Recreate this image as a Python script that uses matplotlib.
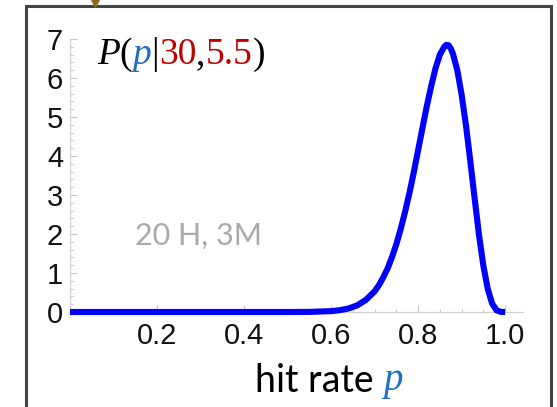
import matplotlib
matplotlib.use("Agg")
import matplotlib.pyplot as plt
from matplotlib.ticker import MultipleLocator
from matplotlib.patches import Rectangle
from matplotlib.lines import Line2D

# values
p_vals = [0.0, 0.1, 0.2, 0.3, 0.4, 0.5, 0.55, 0.6, 0.62, 0.64, 0.66, 0.68, 0.7,
          0.71, 0.72, 0.73, 0.74, 0.75, 0.76, 0.77, 0.78, 0.79, 0.8, 0.81, 0.82,
          0.83, 0.84, 0.85, 0.86, 0.865, 0.87, 0.875, 0.88, 0.89, 0.9, 0.91, 0.92,
          0.93, 0.94, 0.95, 0.96, 0.97, 0.98, 0.99, 1.0]
dens = [0.0, 0.0, 0.0, 0.0, 0.0, 0.0, 0.003, 0.022, 0.046, 0.09, 0.17, 0.31, 0.53,
        0.69, 0.89, 1.12, 1.41, 1.74, 2.13, 2.57, 3.05, 3.58, 4.15, 4.72, 5.28,
        5.79, 6.25, 6.60, 6.80, 6.85, 6.84, 6.76, 6.62, 6.20, 5.57, 4.78, 3.86,
        2.90, 1.97, 1.18, 0.59, 0.22, 0.047, 0.003, 0.0]
x_ticks = [0.2, 0.4, 0.6, 0.8, 1.0]
x_tick_labels = ["0.2", "0.4", "0.6", "0.8", "1.0"]
y_ticks = [0, 1, 2, 3, 4, 5, 6, 7]
annotation = "20 H, 3M"

W, H = 557, 407
fig = plt.figure(figsize=(W / 100, H / 100), dpi=100)
ax = fig.add_axes([70 / W, 1 - 312 / H, (523 - 70) / W, (312 - 39) / H])

ax.plot(p_vals, dens, color="#0000ff", lw=4.4, solid_capstyle="butt",
        solid_joinstyle="round", clip_on=False, zorder=3)

ax.set_xlim(0, 1.041)
ax.set_ylim(0, 7)
for s in ["top", "right"]:
    ax.spines[s].set_visible(False)
for s in ["left", "bottom"]:
    ax.spines[s].set_color("#d0d0d0")
    ax.spines[s].set_linewidth(0.9)

ax.set_xticks(x_ticks)
ax.set_xticklabels(x_tick_labels)
ax.set_yticks(y_ticks)
ax.xaxis.set_minor_locator(MultipleLocator(0.05))
ax.yaxis.set_minor_locator(MultipleLocator(0.2))
ax.tick_params(which="both", direction="in", color="#c8c8c8", width=0.8)
ax.tick_params(which="major", length=5)
ax.tick_params(which="minor", length=2.5)
ax.tick_params(axis="x", which="major", pad=7)
ax.tick_params(axis="y", which="major", pad=5)
for lab in ax.get_xticklabels() + ax.get_yticklabels():
    lab.set_fontfamily("Liberation Sans")
    lab.set_fontsize(21)
    lab.set_color("#111111")

ax.text(0.149, 1.95, annotation, fontsize=22, family="Lato", color="#aaaaaa",
        ha="left", va="center")

# title pieces
pieces = [("P", "black", "italic"), ("(", "black", "normal"), ("p", "#1f6fc4", "italic"),
          ("|", "black", "normal"), ("30", "#c00000", "normal"), (",", "black", "normal"),
          ("5.5", "#c00000", "normal"), (")", "black", "normal")]
prev = None
for txt, col, sty in pieces:
    kw = dict(fontsize=27, family="Liberation Serif", style=sty, color=col, va="baseline")
    if prev is None:
        prev = ax.text(0.062, 6.36, txt, ha="left", **kw)
    else:
        prev = ax.annotate(txt, xy=(1, 0), xycoords=prev, ha="left",
                           xytext=(0, 0), textcoords="offset points",
                           va="bottom", fontsize=27, family="Liberation Serif",
                           style=sty, color=col)

# x-axis label
t1 = fig.text(255 / W, 1 - 392 / H, "hit rate ", fontsize=27, family="Lato",
              color="black", ha="left", va="baseline")
ax.annotate("p", xy=(1, 0), xycoords=t1, xytext=(0, 0), textcoords="offset points",
            ha="left", va="bottom", fontsize=28, family="Liberation Serif",
            style="italic", color="#1f6fc4", annotation_clip=False)

# frame and marker
fig.patches.append(Rectangle((26 / W, -0.1), (551 - 26) / W, 1.1 - 6 / H,
                             transform=fig.transFigure, fill=False,
                             edgecolor="#444444", lw=2.2))
fig.lines.append(Line2D([95 / W], [1 - 3 / H], transform=fig.transFigure,
                        marker="v", markersize=6, color="#8a6d1e", linestyle="none"))

fig.savefig("out.png", dpi=100)
